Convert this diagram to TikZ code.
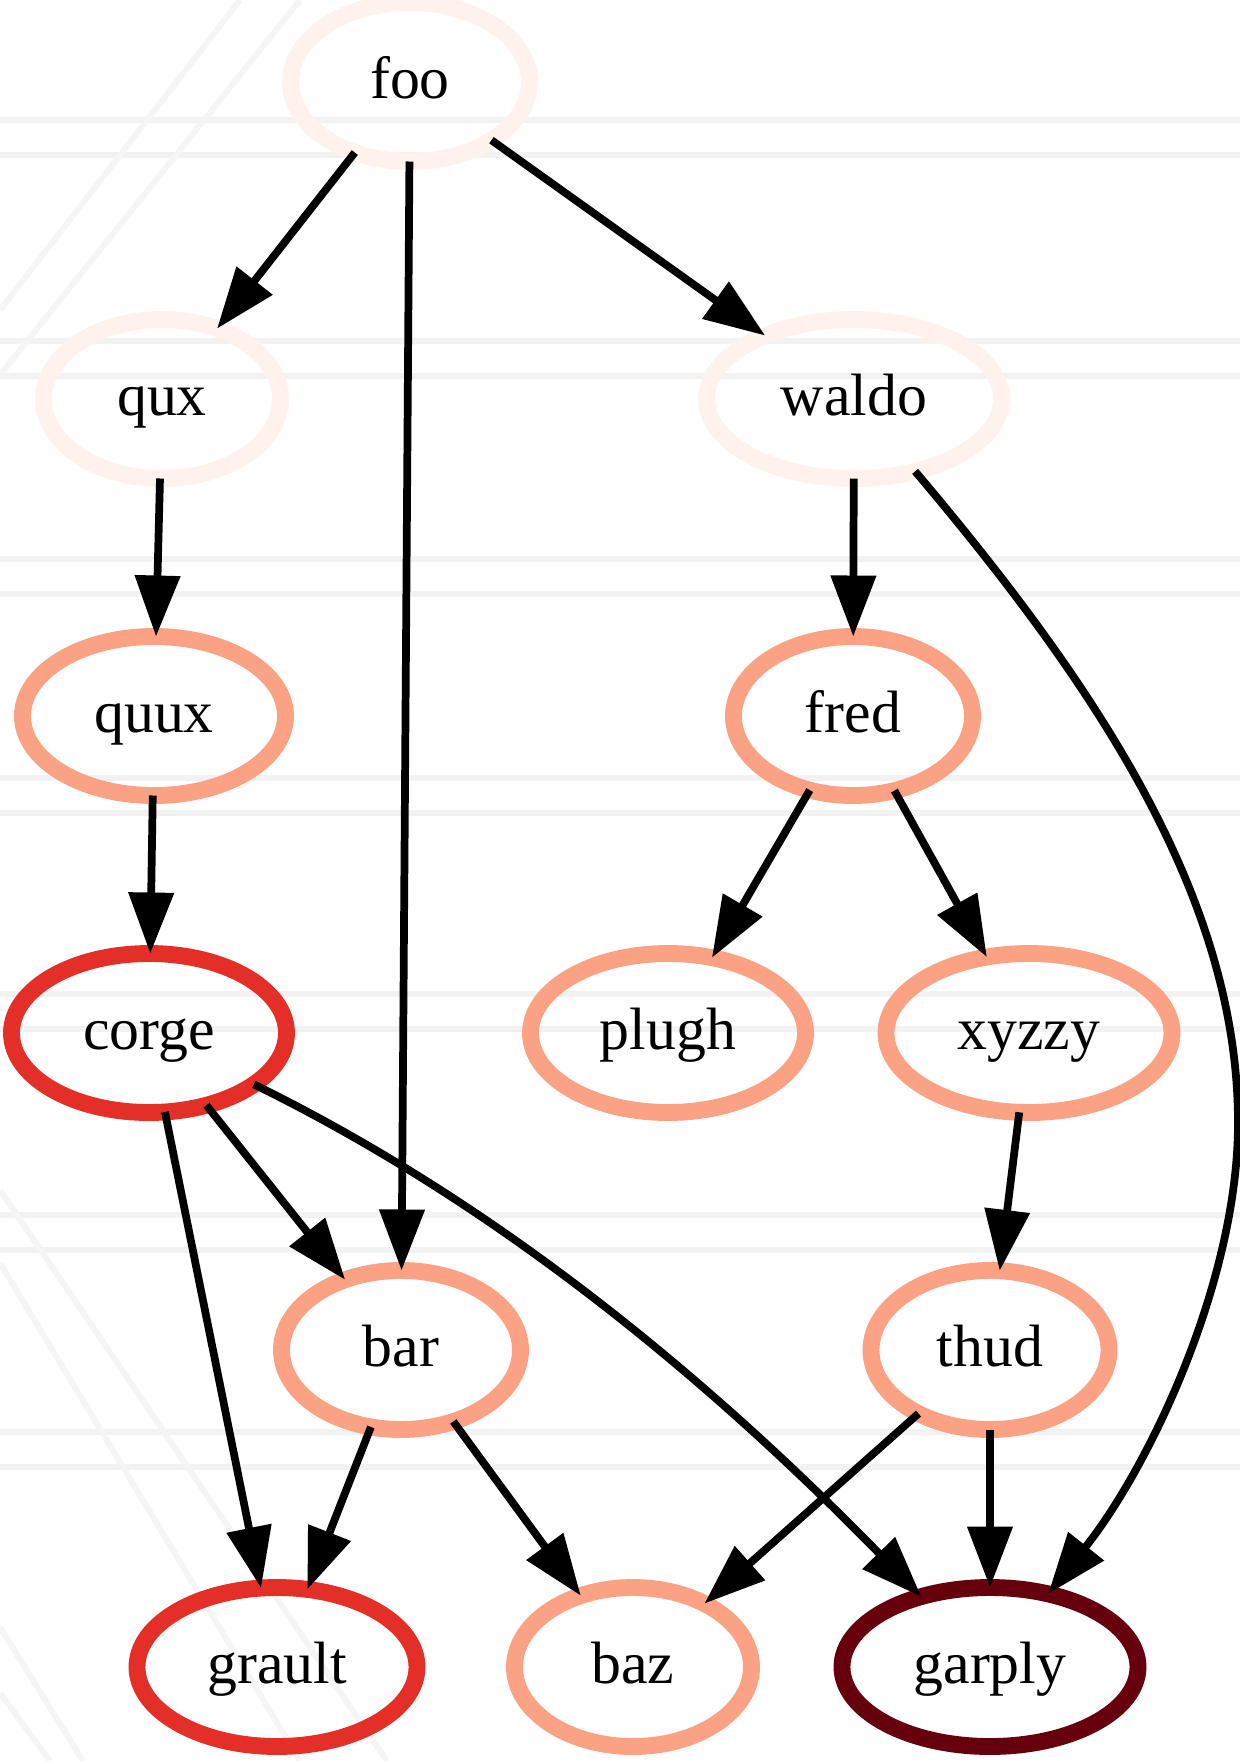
\documentclass[tikz,border=0pt]{standalone}
\usepackage{fontspec}
\setmainfont{Liberation Serif}
\usepackage{tikz}
\usetikzlibrary{arrows.meta,shapes.geometric}

\definecolor{redsA}{HTML}{FFF2EC}
\definecolor{redsC}{HTML}{FBA284}
\definecolor{redsD}{HTML}{E32F27}
\definecolor{redsE}{HTML}{67000D}

\tikzset{
  bubble/.style={ellipse, draw, line width=4.8pt, inner sep=0pt, outer sep=0pt,
    minimum height=1.59cm, font=\fontsize{17}{20}\selectfont,
    text height=12pt, text depth=2.4pt},
  link/.style={-{Triangle[length=6.1mm,width=4.4mm]}, line width=2.2pt},
  haze/.style={line width=1.7pt, black!5}
}

\begin{document}
\begin{tikzpicture}[x=0.1mm, y=-0.1mm]

    %% Background
    \useasboundingbox (0,0) rectangle (1240,1761);

    \foreach \y in {120,341,559,778,994,1215,1432}
    {
    \draw[haze] (0,\y) to (1240,\y);
    \draw[haze] (0,\y+35) to (1240,\y+35);
    }

    \draw[haze, black!4] (240,0) to (0,310);
    \draw[haze, black!4] (300,0) to (0,375);
    \draw[haze, black!4] (0,1190) to (387,1761);
    \draw[haze, black!4] (0,1263) to (300,1761);
    \draw[haze, black!4] (0,1627) to (83,1761);
    \draw[haze, black!4] (0,1693) to (50,1761);

    %% Nodes
    \node[bubble, draw=redsA, minimum width=2.39cm] (foo) at (410,82) {foo};
    \node[bubble, draw=redsA, minimum width=2.37cm] (qux) at (162,399) {qux};
    \node[bubble, draw=redsA, minimum width=2.95cm] (waldo) at (854,399) {waldo};
    \node[bubble, draw=redsC, minimum width=2.63cm] (quux) at (154,716) {quux};
    \node[bubble, draw=redsC, minimum width=2.39cm] (fred) at (853,716) {fred};
    \node[bubble, draw=redsD, minimum width=2.75cm] (corge) at (149,1033) {corge};
    \node[bubble, draw=redsC, minimum width=2.75cm] (plugh) at (668,1033) {plugh};
    \node[bubble, draw=redsC, minimum width=2.86cm] (xyzzy) at (1029,1033) {xyzzy};
    \node[bubble, draw=redsC, minimum width=2.39cm] (bar) at (401,1350) {bar};
    \node[bubble, draw=redsC, minimum width=2.38cm] (thud) at (990,1350) {thud};
    \node[bubble, draw=redsD, minimum width=2.80cm] (grault) at (277,1667) {grault};
    \node[bubble, draw=redsC, minimum width=2.37cm] (baz) at (633,1667) {baz};
    \node[bubble, draw=redsE, minimum width=2.96cm] (garply) at (990,1667) {garply};

    \coordinate (bend) at (1238,1123);

    %% Edges
    \draw[link] (foo) to (qux);
    \draw[link] (foo) to (bar);
    \draw[link] (foo) to (waldo);
    \draw[link] (qux) to (quux);
    \draw[link] (quux) to (corge);
    \draw[link] (waldo) to (fred);
    \draw[link] (waldo) .. controls (1100,690) and (1238,900) .. (bend)
                        .. controls (1238,1280) and (1150,1466) .. (garply);
    \draw[link] (fred) to (plugh);
    \draw[link] (fred) to (xyzzy);
    \draw[link] (corge) to (grault);
    \draw[link] (corge) to (bar);
    \draw[link] (corge) .. controls (490,1200) and (700,1370) .. (garply);
    \draw[link] (xyzzy) to (thud);
    \draw[link] (bar) to (grault);
    \draw[link] (bar) to (baz);
    \draw[link] (thud) to (baz);
    \draw[link] (thud) to (garply);

\end{tikzpicture}
\end{document}
